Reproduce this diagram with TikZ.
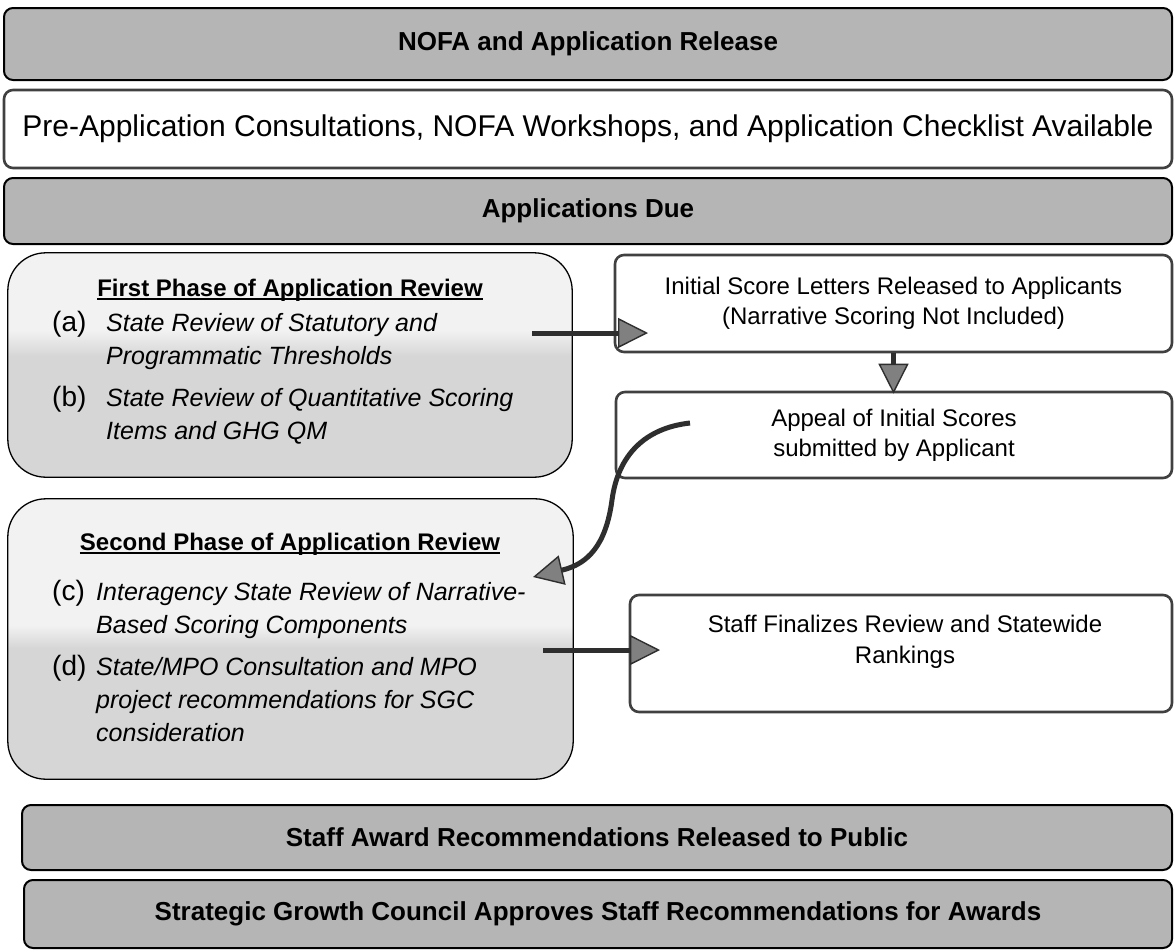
\documentclass[tikz,border=0pt]{standalone}
\usepackage{fontspec}
\setmainfont{Liberation Sans}
\usetikzlibrary{arrows.meta}
\begin{document}
\begin{tikzpicture}[x=1pt,y=-1pt,
  stage/.style={line width=2pt, rounded corners=9pt, inner sep=0pt, align=center},
  banner/.style={stage, draw=black, fill=gray!58, font=\fontsize{26}{30}\selectfont\bfseries},
  plain/.style={stage, draw=black!75, line width=2.6pt, fill=white, font=\fontsize{24}{30}\selectfont},
  phasefill/.style={inner sep=0pt, rounded corners=38pt, fill=gray!10},
  phaseedge/.style={draw=black, line width=1.3pt, rounded corners=38pt},
  ptitle/.style={anchor=base, font=\fontsize{24}{28}\selectfont\bfseries, inner sep=0pt},
  plabel/.style={anchor=base west, font=\fontsize{28}{32}\selectfont, inner sep=0pt},
  pitem/.style={anchor=base west, font=\fontsize{25}{30}\selectfont\itshape, inner sep=0pt},
  uline/.style={line width=1.5pt},
  flow/.style={draw=black!82, line width=5pt,
    -{Triangle[length=30pt,width=30pt,line width=1.4pt,fill=black!50]}},
]
\useasboundingbox (0,0) rectangle (1175,951);

% top banners
\node[banner, minimum width=1168pt, minimum height=72pt] (nofa) at (588,44) {NOFA and Application Release};
\node[plain, minimum width=1168pt, minimum height=78pt, font=\fontsize{30}{36}\selectfont] (pre) at (588,129)
  {Pre-Application Consultations, NOFA Workshops, and Application Checklist Available};
\node[banner, minimum width=1168pt, minimum height=66pt] (due) at (588,211) {Applications Due};

% first review phase
\node[phasefill, minimum width=564pt, minimum height=224pt] (ph1) at (290,365) {};
\begin{scope}
  \clip[rounded corners=38pt] (ph1.north west) rectangle (ph1.south east);
  \shade[top color=gray!10, bottom color=gray!32] (ph1.west |- 0,330) rectangle (ph1.east |- 0,356);
  \fill[gray!32] (ph1.west |- 0,356) rectangle (ph1.south east);
\end{scope}
\draw[phaseedge] (ph1.north west) rectangle (ph1.south east);
\node[ptitle] (t1) at (290,296) {First Phase of Application Review};
\draw[uline] ([yshift=-3pt]t1.base west) -- ([yshift=-3pt]t1.base east);
\node[plabel] (la) at (52,331) {(a)};
\node[pitem] (a1) at (106,331) {State Review of Statutory and};
\node[pitem] (a2) at (106,364) {Programmatic Thresholds};
\node[plabel] (lb) at (52,406) {(b)};
\node[pitem] (b1) at (106,406) {State Review of Quantitative Scoring};
\node[pitem] (b2) at (106,439) {Items and GHG QM};

% second review phase
\node[phasefill, minimum width=565pt, minimum height=280pt] (ph2) at (290.5,639) {};
\begin{scope}
  \clip[rounded corners=38pt] (ph2.north west) rectangle (ph2.south east);
  \shade[top color=gray!10, bottom color=gray!32] (ph2.west |- 0,625) rectangle (ph2.east |- 0,648);
  \fill[gray!32] (ph2.west |- 0,648) rectangle (ph2.south east);
\end{scope}
\draw[phaseedge] (ph2.north west) rectangle (ph2.south east);
\node[ptitle] (t2) at (290,550) {Second Phase of Application Review};
\draw[uline] ([yshift=-3pt]t2.base west) -- ([yshift=-3pt]t2.base east);
\node[plabel] (lc) at (52,600) {(c)};
\node[pitem] (c1) at (96,600) {Interagency State Review of Narrative-};
\node[pitem] (c2) at (96,633) {Based Scoring Components};
\node[plabel] (ld) at (52,675) {(d)};
\node[pitem] (d1) at (96,675) {State/MPO Consultation and MPO};
\node[pitem] (d2) at (96,708) {project recommendations for SGC};
\node[pitem] (d3) at (96,741) {consideration};

% right column
\node[plain, minimum width=557pt, minimum height=97pt] (init) at (893.5,303.5)
  {Initial Score Letters Released to Applicants\\(Narrative Scoring Not Included)};
\node[plain, minimum width=556pt, minimum height=86pt] (appeal) at (894,435)
  {Appeal of Initial Scores\\submitted by Applicant};
\node[plain, minimum width=542pt, minimum height=117pt] (final) at (901,653.5) {};
\node[font=\fontsize{24}{31}\selectfont, align=center, inner sep=0pt] (fintext) at (905,642)
  {Staff Finalizes Review and Statewide\\Rankings};

% bottom banners
\node[banner, minimum width=1150pt, minimum height=65pt] (award) at (597,837.5) {Staff Award Recommendations Released to Public};
\node[banner, minimum width=1148pt, minimum height=68pt] (sgc) at (598,914) {Strategic Growth Council Approves Staff Recommendations for Awards};

% connectors
\coordinate (a1s) at (532,333);
\coordinate (a1e) at (648,333);
\draw[flow] (a1s) -- (a1e);
\draw[flow] (init.south) -- ([yshift=-3pt]init.south |- appeal.north);
\coordinate (c0) at (690,423);
\coordinate (cend) at (533,577);
\draw[flow] (c0) .. controls (645,428) and (618,455) .. (612,500)
  .. controls (606,545) and (588,564) .. (cend);
\coordinate (d1s) at (543,650);
\coordinate (d1e) at (660,650);
\draw[flow] (d1s) -- (d1e);
\end{tikzpicture}
\end{document}
